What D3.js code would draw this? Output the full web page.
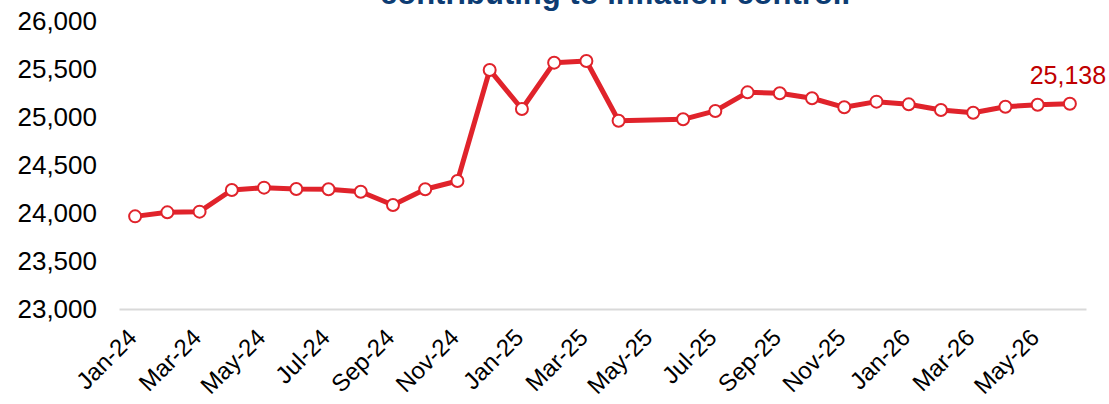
<!DOCTYPE html>
<html>
<head>
<meta charset="utf-8">
<script src="https://cdn.jsdelivr.net/npm/d3@7"></script>
<style>
  html, body { margin: 0; padding: 0; background: #fff; }
  svg { display: block; font-family: "Liberation Sans", Arial, sans-serif; }
</style>
</head>
<body>
<svg id="chart" width="1109" height="404"></svg>
<script>
const title = "contributing to inflation control.";
const months = ["Jan-24","Feb-24","Mar-24","Apr-24","May-24","Jun-24","Jul-24","Aug-24","Sep-24","Oct-24","Nov-24","Dec-24",
                "Jan-25","Feb-25","Mar-25","Apr-25","May-25","Jun-25","Jul-25","Aug-25","Sep-25","Oct-25","Nov-25","Dec-25",
                "Jan-26","Feb-26","Mar-26","Apr-26","May-26","Jun-26"];
const values = [23965, 24007, 24014, 24240, 24264, 24250, 24247, 24222, 24083, 24247, 24333, 25490,
                25083, 25566, 25583, 24961, null, 24976, 25063, 25257, 25247, 25195, 25101, 25160,
                25132, 25073, 25045, 25107, 25128, 25138];
const yTicks = [23000, 23500, 24000, 24500, 25000, 25500, 26000];
const xTickLabels = months.filter((m, i) => i % 2 === 0);
const lastLabel = "25,138";

const svg = d3.select("#chart");
const x = d3.scaleBand().domain(months).range([119, 1086]).padding(0);
const y = d3.scaleLinear().domain([23000, 26000]).range([309, 21]);
const cx = m => x(m) + x.bandwidth() / 2;

// title (partially cut off at top, as in the source)
svg.append("text")
  .attr("x", 615).attr("y", 4)
  .attr("text-anchor", "middle")
  .attr("font-size", 31).attr("font-weight", "bold")
  .attr("fill", "#0d3c73")
  .text(title);

// y axis labels
const yAxis = d3.axisLeft(y).tickValues(yTicks).tickFormat(d3.format(",")).tickSize(0).tickPadding(0);
const gy = svg.append("g").attr("transform", "translate(97,0)").call(yAxis);
gy.select(".domain").remove();
gy.selectAll("text").attr("font-size", 26).attr("fill", "#000")
  .attr("font-family", "Liberation Sans, Arial, sans-serif");

// x axis
const xAxis = d3.axisBottom(x).tickValues(xTickLabels).tickSize(0).tickPadding(0);
const gx = svg.append("g").attr("transform", "translate(0,309)").call(xAxis);
gx.select(".domain").attr("stroke", "#d9d9d9").attr("stroke-width", 2);
gx.selectAll("text")
  .attr("font-size", 24).attr("fill", "#000")
  .attr("font-family", "Liberation Sans, Arial, sans-serif")
  .attr("text-anchor", "end")
  .attr("dy", null).attr("y", 0)
  .attr("transform", "translate(3,30) rotate(-45)");

// line
const pts = months.map((m, i) => ({ m, v: values[i] })).filter(d => d.v !== null);
const line = d3.line().x(d => cx(d.m)).y(d => y(d.v));
svg.append("path").datum(pts)
  .attr("d", line)
  .attr("fill", "none")
  .attr("stroke", "#e0232b")
  .attr("stroke-width", 5)
  .attr("stroke-linejoin", "round");

svg.selectAll("circle.pt").data(pts).enter().append("circle")
  .attr("class", "pt")
  .attr("cx", d => cx(d.m)).attr("cy", d => y(d.v))
  .attr("r", 6)
  .attr("fill", "#fff")
  .attr("stroke", "#e0232b")
  .attr("stroke-width", 2);

// last value label
const last = pts[pts.length - 1];
svg.append("text")
  .attr("x", cx(last.m) - 2).attr("y", y(last.v) - 20)
  .attr("text-anchor", "middle")
  .attr("font-size", 25)
  .attr("fill", "#c00000")
  .text(lastLabel);
</script>
</body>
</html>
